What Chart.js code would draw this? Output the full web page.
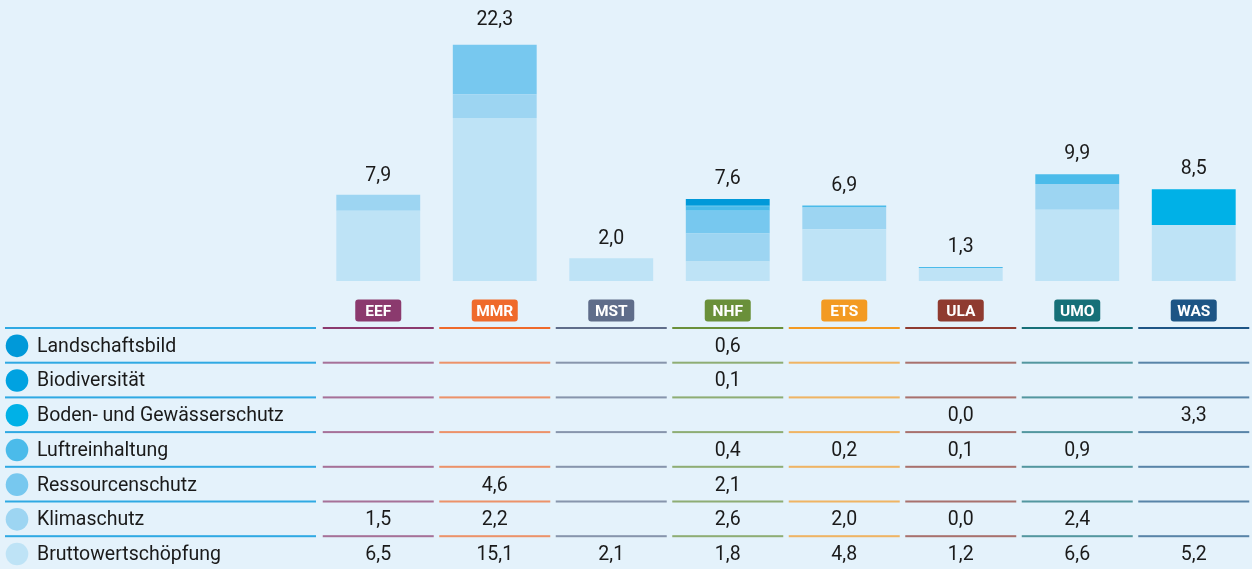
<!DOCTYPE html>
<html lang="de">
<head>
<meta charset="utf-8">
<title>Wertschöpfung nach Bereichen</title>
<script src="https://cdn.jsdelivr.net/npm/chart.js@4/dist/chart.umd.min.js"></script>
<style>
  html, body { margin: 0; padding: 0; background: #e4f2fb; }
  .wrap { position: relative; width: 1252px; height: 569px; }
</style>
</head>
<body>
<div class="wrap"><canvas id="stackChart"></canvas></div>
<script>
// Kategorien (Spalten)
const categories = ['EEF', 'MMR', 'MST', 'NHF', 'ETS', 'ULA', 'UMO', 'WAS'];
const categoryColors = ['#8b3a6e', '#ef6a2b', '#5f6d8a', '#6a903a', '#f39a22', '#8f3b30', '#167078', '#1d5585'];

// Reihen, von oben nach unten wie in der Tabelle
const seriesNames = ['Landschaftsbild', 'Biodiversität', 'Boden- und Gewässerschutz', 'Luftreinhaltung', 'Ressourcenschutz', 'Klimaschutz', 'Bruttowertschöpfung'];
const seriesColors = ['#0099d9', '#00a2e1', '#00b1e7', '#4bbbea', '#77c8ef', '#9dd5f2', '#bee3f6'];

const landschaftsbild = [null, null, null, 0.6, null, null, null, null];
const biodiversitaet  = [null, null, null, 0.1, null, null, null, null];
const bodenGewaesser  = [null, null, null, null, null, 0.0, null, 3.3];
const luftreinhaltung = [null, null, null, 0.4, 0.2, 0.1, 0.9, null];
const ressourcen      = [null, 4.6, null, 2.1, null, null, null, null];
const klimaschutz     = [1.5, 2.2, null, 2.6, 2.0, 0.0, 2.4, null];
const bruttowert      = [6.5, 15.1, 2.1, 1.8, 4.8, 1.2, 6.6, 5.2];
const totals          = [7.9, 22.3, 2.0, 7.6, 6.9, 1.3, 9.9, 8.5];

const seriesValues = [landschaftsbild, biodiversitaet, bodenGewaesser, luftreinhaltung, ressourcen, klimaschutz, bruttowert];

const FONT = 'Roboto, "Noto Sans", sans-serif';
const fmt = v => v.toFixed(1).replace('.', ',');

/* ============================================================
   TABLE + LABELS PLUGIN
   ============================================================ */
const tablePlugin = {
  id: 'valueTable',
  afterDraw(chart) {
    const { ctx, scales: { x, y } } = chart;
    const headerY = 310.5;
    const firstLine = 328;
    const rowH = 34.7;
    const halfW = 55.5;

    ctx.save();
    ctx.textBaseline = 'middle';

    // totals above bars
    ctx.font = '19.5px ' + FONT;
    ctx.fillStyle = '#1a1a1a';
    ctx.textAlign = 'center';
    totals.forEach((t, i) => {
      ctx.fillText(fmt(t), x.getPixelForValue(i), y.getPixelForValue(t) - 20);
    });

    // header badges
    categories.forEach((c, i) => {
      const cx = x.getPixelForValue(i);
      ctx.fillStyle = categoryColors[i];
      ctx.beginPath();
      ctx.roundRect(cx - 23, headerY - 11, 46, 22, 3);
      ctx.fill();
      ctx.font = 'bold 15.5px ' + FONT;
      ctx.fillStyle = '#ffffff';
      ctx.fillText(c, cx, headerY + 1.5);
    });

    // row lines
    for (let r = 0; r < seriesNames.length; r++) {
      const ly = firstLine + r * rowH;
      ctx.globalAlpha = 1;
      ctx.fillStyle = '#2fa9e3';
      ctx.fillRect(5, ly - 1, 311, 2);
      categories.forEach((c, i) => {
        const cx = x.getPixelForValue(i);
        ctx.globalAlpha = r === 0 ? 1 : 0.7;
        ctx.fillStyle = categoryColors[i];
        ctx.fillRect(cx - halfW, ly - 1, halfW * 2, 2);
      });
    }
    ctx.globalAlpha = 1;

    // row labels, dots and values
    seriesNames.forEach((name, r) => {
      const cy = firstLine + rowH / 2 + r * rowH;
      ctx.fillStyle = seriesColors[r];
      ctx.beginPath();
      ctx.arc(17, cy + 0.5, 11.3, 0, Math.PI * 2);
      ctx.fill();

      ctx.font = '19.5px ' + FONT;
      ctx.fillStyle = '#1a1a1a';
      ctx.textAlign = 'left';
      ctx.fillText(name, 37, cy + 1.5);

      ctx.textAlign = 'center';
      seriesValues[r].forEach((v, i) => {
        if (v === null) return;
        ctx.fillText(fmt(v), x.getPixelForValue(i), cy + 1.5);
      });
    });
    ctx.restore();
  }
};

/* ============================================================
   STACKED BAR CHART
   ============================================================ */
// stacked from bottom: Bruttowertschöpfung first
const datasets = seriesNames.map((name, r) => ({
  label: name,
  data: seriesValues[r],
  backgroundColor: seriesColors[r],
  borderWidth: 0,
  barPercentage: 0.72,
  categoryPercentage: 1
})).reverse();

new Chart(document.getElementById('stackChart'), {
  type: 'bar',
  data: { labels: categories, datasets: datasets },
  options: {
    responsive: true,
    maintainAspectRatio: false,
    animation: false,
    layout: { padding: { left: 320, right: 0, top: 22, bottom: 288 } },
    plugins: {
      legend: { display: false },
      tooltip: { enabled: false }
    },
    scales: {
      x: { stacked: true, display: false },
      y: { stacked: true, display: false, min: 0, max: 24 }
    }
  },
  plugins: [tablePlugin]
});
</script>
</body>
</html>
